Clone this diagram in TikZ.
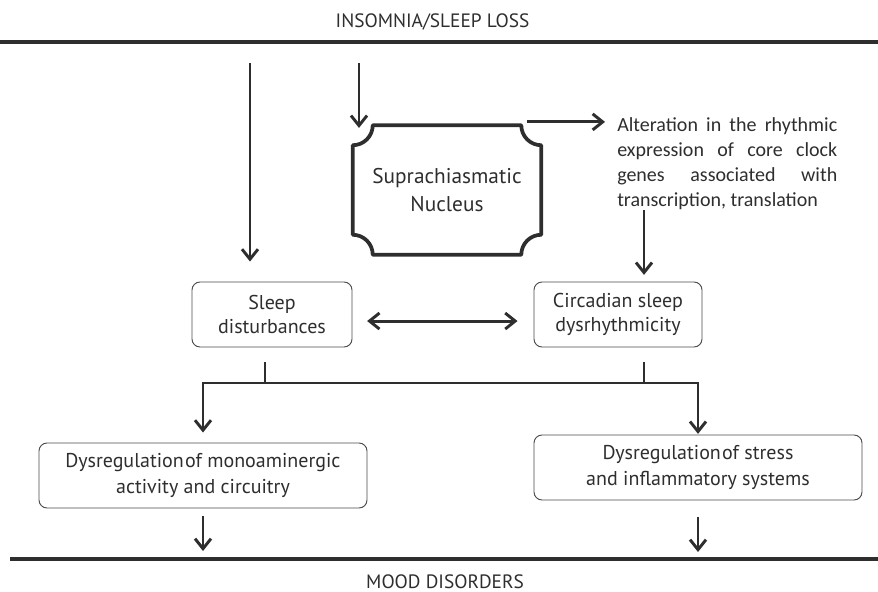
\documentclass[tikz,border=0pt]{standalone}
\usepackage{fontspec}
\setmainfont{PT Sans}
\newfontfamily\calfont{Carlito}
\usepackage{xcolor}
\usepackage{tikz}
\usetikzlibrary{arrows.meta,positioning,calc}
\definecolor{ink}{HTML}{2E2E2E}
\definecolor{rim}{HTML}{4A4A4A}

\begin{document}
\begin{tikzpicture}[
    x=0.75pt, y=0.75pt,
    every node/.style={text=ink},
    box/.style={rectangle, draw=rim, line width=0.7pt, rounded corners=6pt, align=center, minimum height=48.75pt, inner sep=2pt, font=\fontsize{15}{18.5}\selectfont},
    widebox/.style={box, minimum width=246pt, font=\fontsize{15}{19}\selectfont},
    headline/.style={anchor=base, font=\fontsize{14.5}{16}\selectfont},
    arrow/.style={-{Straight Barb[length=7.5pt,width=12pt]}, line width=2.2pt, draw=ink},
    dblarrow/.style={{Straight Barb[length=7.5pt,width=12pt]}-{Straight Barb[length=7.5pt,width=12pt]}, line width=2.2pt, draw=ink},
    stub/.style={line width=2.2pt, draw=ink},
    bar/.style={line width=2.6pt, draw=ink}
]
\useasboundingbox (0,0) rectangle (878,-592);

% Titres et barres
\node[headline] (title) at (432.5,-28) {INSOMNIA/SLEEP LOSS};
\node[headline] (mood) at (445,-588.5) {MOOD DISORDERS};
\coordinate (topl) at (0,-42);
\coordinate (topr) at (878,-42);
\coordinate (botl) at (10,-559);
\coordinate (botr) at (878,-559);
\draw[bar] (topl) -- (topr);
\draw[bar] (botl) -- (botr);

% Noyau suprachiasmatique
\node[minimum width=141pt, minimum height=96.75pt, align=center, font=\fontsize{16}{21.5}\selectfont] (scn) at (447,-190) {Suprachiasmatic\\Nucleus};
\draw[line width=2.8pt, draw=ink, line join=round]
    ([xshift=15pt]scn.north west) -- ([xshift=-15pt]scn.north east)
    arc[start angle=180, end angle=270, radius=15pt] -- ([yshift=15pt]scn.south east)
    arc[start angle=90, end angle=180, radius=15pt] -- ([xshift=15pt]scn.south west)
    arc[start angle=0, end angle=90, radius=15pt] -- ([yshift=-15pt]scn.north west)
    arc[start angle=270, end angle=360, radius=15pt] -- cycle;

\node[anchor=north west, inner sep=0pt, text width=165pt, align=justify, font=\calfont\fontsize{15}{18.75}\selectfont] (alt) at (617,-117)
    {Alteration in the rhythmic\linebreak expression of core clock\linebreak genes associated with\linebreak transcription, translation};

% Boites
\node[box, minimum width=120pt] (sleep) at (272,-314.5) {Sleep\\disturbances};
\node[box, minimum width=126pt] (circ) at (618,-314.5) {Circadian sleep\\dysrhythmicity};
\node[widebox] (mono) at (203,-475.5) {Dysregulation\kern1pt of monoaminergic\\activity and circuitry};
\node[widebox] (stress) at (698,-467.5) {Dysregulation\kern1pt of stress\\and inflammatory systems};

% Fleches
\coordinate (in1) at (250,-63);
\coordinate (in2) at (359,-63);
\draw[arrow, shorten >=15pt] (in1) -- (in1 |- sleep.north);
\draw[arrow, shorten >=-2pt] (in2) -- (in2 |- scn.north);

\coordinate (scnout) at ([xshift=-10.5pt,yshift=2.5pt]scn.north east);
\draw[arrow, shorten >=9pt] (scnout) -- (scnout -| alt.west);

\coordinate (circin) at ([xshift=19.5pt]circ.north);
\draw[arrow, shorten >=5pt] (circin |- alt.south) -- (circin);

\draw[dblarrow, shorten <=11pt, shorten >=12pt] ([yshift=-4.9pt]sleep.east) -- ([yshift=-4.9pt]circ.west);

\coordinate (sleepout) at ([xshift=-5.25pt]sleep.south);
\coordinate (circout) at ([xshift=19.5pt]circ.south);
\coordinate (jl) at (203,-383);
\coordinate (jr) at (698,-383);
\draw[stub, shorten <=11.25pt] (sleepout) -- (sleepout |- jl);
\draw[stub, shorten <=11.25pt] (circout) -- (circout |- jr);
\draw[arrow, shorten >=7.5pt] (sleepout |- jl) -- (jl) -- (mono.north);
\draw[arrow, shorten >=0.5pt] (sleepout |- jl) -- (jr) -- (stress.north);

\draw[arrow, shorten <=6pt, shorten >=6pt] (mono.south) -- (mono.south |- botl);
\draw[arrow, shorten <=12.75pt, shorten >=5.25pt] (stress.south) -- (stress.south |- botl);

\end{tikzpicture}
\end{document}
